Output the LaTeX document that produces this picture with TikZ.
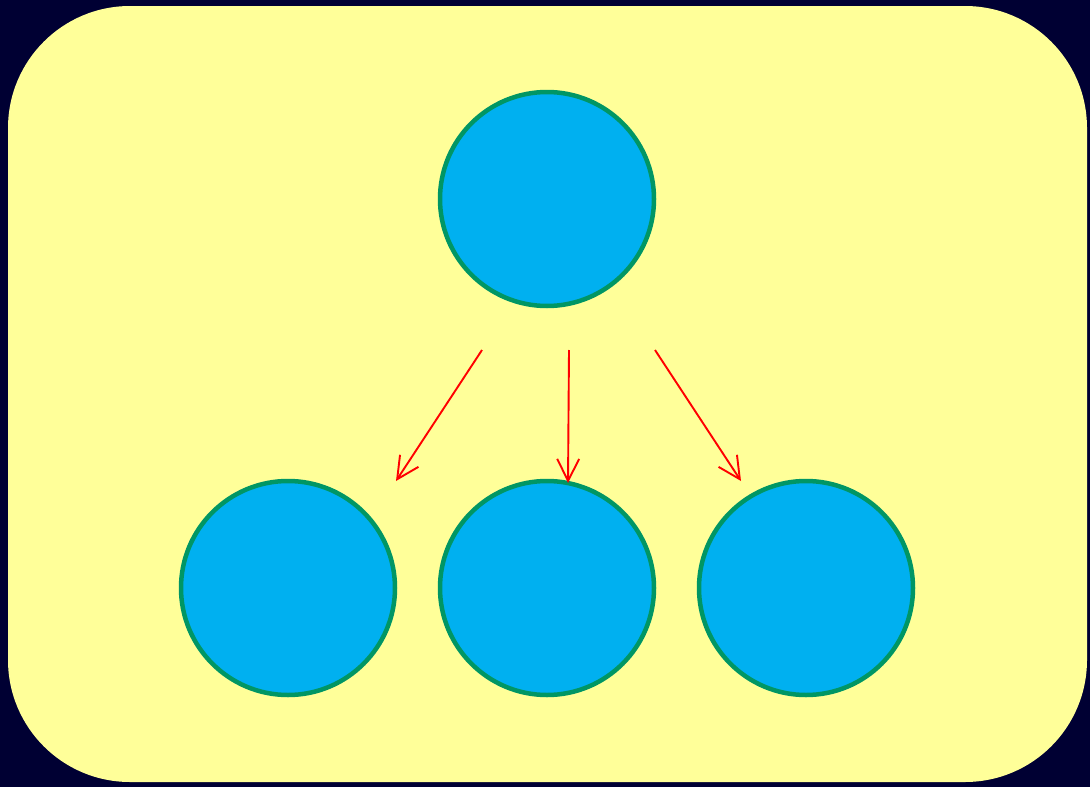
\documentclass[tikz,border=0pt]{standalone}
\usetikzlibrary{arrows.meta}
\definecolor{bgnavy}{RGB}{0,0,51}
\definecolor{paneyellow}{RGB}{255,255,153}
\definecolor{ballfill}{RGB}{0,176,240}
\definecolor{ballline}{RGB}{0,150,100}
\begin{document}
\begin{tikzpicture}[x=1pt,y=-1pt,
  ball/.style={circle,draw=ballline,fill=ballfill,line width=4.5pt,minimum size=214pt,inner sep=0pt},
  link/.style={draw=red,line width=1.9pt,-{Straight Barb[length=22pt,width=22pt,line width=1.9pt]}}]
\fill[bgnavy] (0,0) rectangle (1090,787);
\useasboundingbox (0,0) rectangle (1090,787);
\fill[paneyellow,rounded corners=122pt] (8,6) rectangle (1087,782);
\node[ball] (top) at (547,199) {};
\node[ball] (left) at (288,588) {};
\node[ball] (mid) at (547,588) {};
\node[ball] (right) at (806,588) {};
\coordinate (s1) at (482,350);
\coordinate (e1) at (396,481);
\coordinate (s2) at (569,350);
\coordinate (e2) at (568,483);
\coordinate (s3) at (655,350);
\coordinate (e3) at (741,481);
\draw[link] (s1) -- (e1);
\draw[link] (s2) -- (e2);
\draw[link] (s3) -- (e3);
\end{tikzpicture}
\end{document}
